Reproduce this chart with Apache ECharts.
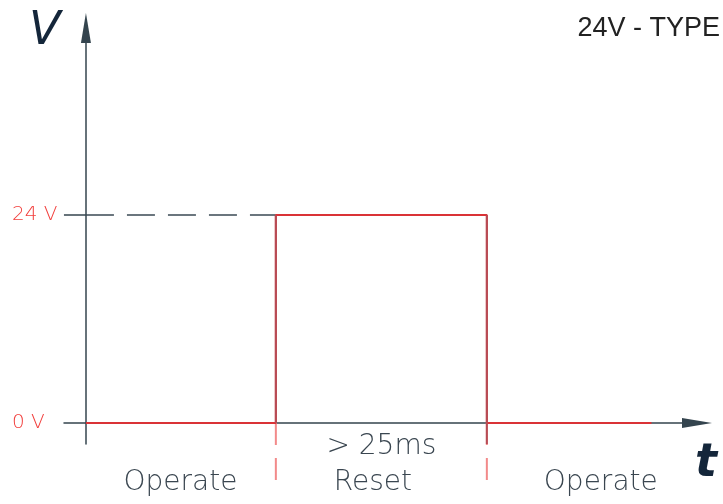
<!DOCTYPE html>
<html><head><meta charset="utf-8">
<script src="https://cdn.jsdelivr.net/npm/echarts@6/dist/echarts.min.js"></script>
<style>html,body{margin:0;padding:0;background:#fff}#c{width:723px;height:504px}</style>
</head><body><div id="c"></div>
<script>
// ---- data (time in ms, level in volts) ----
const riseTime = 22.5;
const fallTime = 47.5;
const endTime = 67;
const signalTimes = [0, riseTime, riseTime, fallTime, fallTime, endTime];
const signalVolts = [0, 0, 24, 24, 0, 0];
const levelTicks = [0, 24];
const levelLabels = ['0 V', '24 V'];
const markerTimes = [riseTime, fallTime];
const markerBottom = -6.8;
const phaseNames = ['Operate', 'Reset', 'Operate'];
const phaseCenters = [11.2, 34, 61];
const durationLabel = '> 25ms';
const durationCenter = 35;
const xRange = [-2.6, 72.4];
const yRange = [-2.42, 45.6];

const AX = '#34444e';
const chart = echarts.init(document.getElementById('c'), null, {renderer: 'canvas'});
const signal = signalTimes.map((t, i) => [t, signalVolts[i]]);
const thinFont = "'DejaVu Sans', sans-serif";

const series = [];
markerTimes.forEach(t => {
  series.push({
    type: 'line', symbol: 'none', clip: false, z: 2,
    data: [[t, 0], [t, markerBottom]],
    lineStyle: {color: '#f28a8a', width: 2, type: [22, 13]}
  });
});
series.push({
  type: 'line', symbol: 'none', z: 3,
  data: [[0, 24], [riseTime, 24]],
  lineStyle: {color: '#3b4a54', width: 1.5, type: [28, 13]}
});
series.push({
  type: 'line', symbol: 'none', z: 4,
  data: signal,
  lineStyle: {color: '#da3236', width: 2}
});
series.push({
  type: 'line', symbol: 'none', z: 5,
  data: [[riseTime, 0], [riseTime, 24]],
  lineStyle: {color: '#b64c55', width: 2}
});
series.push({
  type: 'line', symbol: 'none', z: 5,
  data: [[fallTime, 24], [fallTime, yRange[0]]],
  lineStyle: {color: '#b64c55', width: 2}
});

chart.setOption({
  animation: false,
  backgroundColor: '#fff',
  title: [
    {text: '24V - TYPE', right: -2, top: 10,
     textStyle: {fontFamily: "'Liberation Sans', Arial, sans-serif", fontSize: 27, fontWeight: 'normal', color: '#222'}},
    {text: 'V', left: 24, top: 4,
     textStyle: {fontFamily: thinFont, fontSize: 46, fontStyle: 'italic', fontWeight: 'normal', color: '#14263a'}},
    {text: 't', left: 690, top: 436,
     textStyle: {fontFamily: thinFont, fontSize: 46, fontStyle: 'italic', fontWeight: 'bold', color: '#14263a'}}
  ],
  grid: {left: 64, right: 26, top: 28, bottom: 60, containLabel: false, outerBoundsMode: 'none'},
  xAxis: {
    type: 'value', min: xRange[0], max: xRange[1],
    axisLine: {show: true, onZero: true, symbol: ['none', 'triangle'], symbolSize: [10, 30],
               lineStyle: {color: AX, width: 1.5}},
    axisTick: {show: false}, axisLabel: {show: false}, splitLine: {show: false}
  },
  yAxis: {
    type: 'value', min: yRange[0], max: yRange[1],
    axisLine: {show: true, onZero: true, symbol: ['none', 'triangle'], symbolSize: [10, 30],
               lineStyle: {color: AX, width: 1.5}},
    axisTick: {show: true, customValues: [24], length: 22, inside: false,
               lineStyle: {color: AX, width: 1.5}},
    axisLabel: {show: true, customValues: levelTicks, margin: 52, align: 'left',
                formatter: v => levelLabels[levelTicks.indexOf(v)],
                fontFamily: thinFont, fontWeight: 200, fontSize: 20, color: '#f2403e'},
    splitLine: {show: false}
  },
  series: series
});

function placeTexts() {
  const px = x => chart.convertToPixel({xAxisIndex: 0, yAxisIndex: 0}, [x, 0])[0];
  const style = {fontFamily: thinFont, fontWeight: 200, fontSize: 28, fill: '#3a4650',
                 textAlign: 'center', textVerticalAlign: 'middle'};
  const g = phaseNames.map((n, i) => ({
    type: 'text', x: px(phaseCenters[i]), y: 483, style: Object.assign({text: n}, style)
  }));
  g.push({type: 'text', x: px(durationCenter), y: 447, style: Object.assign({text: durationLabel}, style)});
  chart.setOption({graphic: g});
}
placeTexts();
</script></body></html>
